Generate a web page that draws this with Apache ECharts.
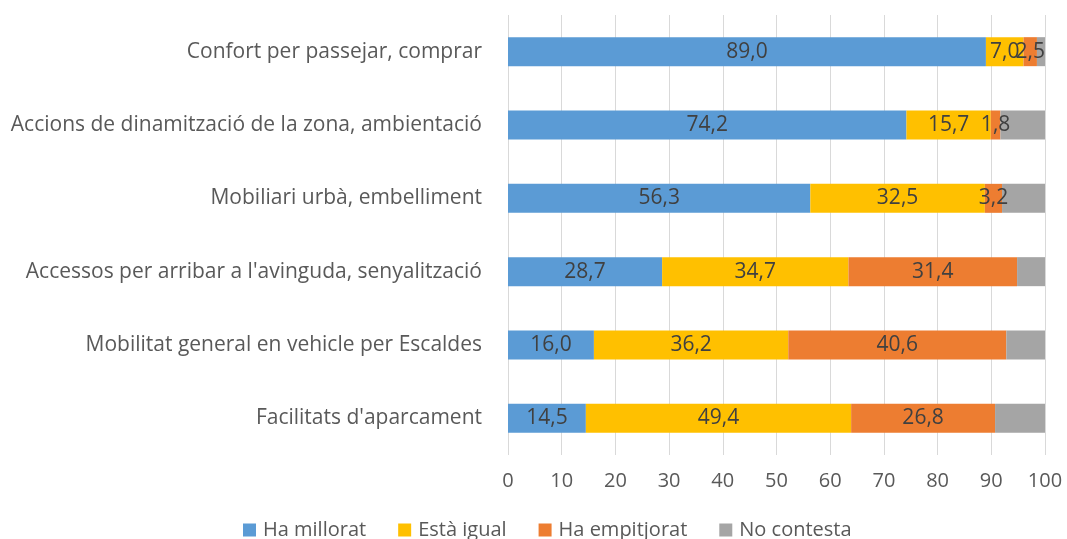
<!DOCTYPE html>
<html><head><meta charset="utf-8">
<script src="https://cdn.jsdelivr.net/npm/echarts@6/dist/echarts.min.js"></script>
<style>html,body{margin:0;padding:0;background:#fff}#c{width:1067px;height:539px}</style>
</head><body><div id="c"></div>
<script>
const categories = [
  "Confort per passejar, comprar",
  "Accions de dinamització de la zona, ambientació",
  "Mobiliari urbà, embelliment",
  "Accessos per arribar a l'avinguda, senyalització",
  "Mobilitat general en vehicle per Escaldes",
  "Facilitats d'aparcament"
];
const seriesNames = ["Ha millorat", "Està igual", "Ha empitjorat", "No contesta"];
const haMillorat = [89.0, 74.2, 56.3, 28.7, 16.0, 14.5];
const estaIgual = [7.0, 15.7, 32.5, 34.7, 36.2, 49.4];
const haEmpitjorat = [2.5, 1.8, 3.2, 31.4, 40.6, 26.8];
const noContesta = [1.5, 8.3, 8.0, 5.2, 7.2, 9.3];
const xTicks = [0, 10, 20, 30, 40, 50, 60, 70, 80, 90, 100];

const colors = ["#5B9BD5", "#FFC000", "#ED7D31", "#A5A5A5"];
const font = "'Open Sans', sans-serif";
const fmt = p => p.value.toFixed(1).replace('.', ',');
const allData = [haMillorat, estaIgual, haEmpitjorat, noContesta];

const chart = echarts.init(document.getElementById('c'));
chart.setOption({
  animation: false,
  color: colors,
  textStyle: { fontFamily: font },
  grid: { left: 508, right: 22, top: 15, bottom: 84, containLabel: false },
  xAxis: {
    type: 'value', min: xTicks[0], max: xTicks[xTicks.length - 1], interval: 10,
    axisLine: { show: false }, axisTick: { show: false },
    splitLine: { show: true, lineStyle: { color: '#D9D9D9', width: 1 } },
    axisLabel: { color: '#595959', fontSize: 20, margin: 16, fontFamily: font }
  },
  yAxis: {
    type: 'category', data: categories, inverse: true,
    axisLine: { show: false }, axisTick: { show: false },
    axisLabel: { color: '#595959', fontSize: 21, margin: 26, fontFamily: font }
  },
  legend: {
    bottom: -6, left: 238, itemWidth: 13, itemHeight: 13, itemGap: 32,
    icon: 'rect',
    textStyle: { color: '#595959', fontSize: 20, fontFamily: font, padding: [0, 0, 0, 2] },
    data: seriesNames
  },
  series: seriesNames.map((name, i) => ({
    name, type: 'bar', stack: 'total', barWidth: 29,
    data: allData[i],
    itemStyle: { color: colors[i] },
    label: {
      show: i < 3, position: 'inside', formatter: fmt,
      color: '#404040', fontSize: 21, fontFamily: font
    }
  }))
});
</script></body></html>
